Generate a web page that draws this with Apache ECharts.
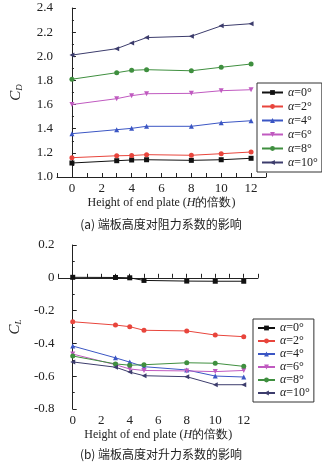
<!DOCTYPE html>
<html><head><meta charset="utf-8">
<script src="https://cdn.jsdelivr.net/npm/echarts@6/dist/echarts.min.js"></script>
<style>html,body{margin:0;padding:0;background:#fff}#c{width:322px;height:462px}</style>
</head><body><div id="c"></div>
<script>
const xs = [0, 3, 4, 5, 8, 10, 12];
const names = ['α=0°', 'α=2°', 'α=4°', 'α=6°', 'α=8°', 'α=10°'];
const xTickLabels = ['0', '2', '4', '6', '8', '10', '12'];
// drag coefficient C_D
const cd0 = [1.116, 1.135, 1.141, 1.143, 1.138, 1.143, 1.155];
const cd2 = [1.160, 1.176, 1.178, 1.185, 1.180, 1.193, 1.207];
const cd4 = [1.359, 1.392, 1.403, 1.420, 1.420, 1.450, 1.466];
const cd6 = [1.600, 1.649, 1.674, 1.690, 1.693, 1.715, 1.723];
const cd8 = [1.810, 1.864, 1.884, 1.889, 1.880, 1.909, 1.936];
const cd10 = [2.010, 2.063, 2.110, 2.155, 2.166, 2.252, 2.270];
// lift coefficient C_L
const cl0 = [0.003, 0.002, 0.000, -0.016, -0.020, -0.021, -0.021];
const cl2 = [-0.268, -0.288, -0.298, -0.320, -0.324, -0.349, -0.359];
const cl4 = [-0.416, -0.488, -0.514, -0.542, -0.562, -0.599, -0.605];
const cl6 = [-0.465, -0.530, -0.556, -0.565, -0.568, -0.572, -0.565];
const cl8 = [-0.477, -0.525, -0.533, -0.530, -0.518, -0.521, -0.540];
const cl10 = [-0.513, -0.545, -0.575, -0.597, -0.603, -0.652, -0.652];

const colors = ['#111111', '#e8453c', '#3b56c4', '#c05ac0', '#3f8f3f', '#3c3c6c'];
const symbols = ['rect', 'circle', 'triangle', 'triangle', 'circle', 'triangle'];
const rots = [0, 0, 0, 180, 0, 90];
const cdSets = [cd0, cd2, cd4, cd6, cd8, cd10];
const clSets = [cl0, cl2, cl4, cl6, cl8, cl10];

const serif = '"Liberation Serif","DejaVu Serif",serif';
const labelFmt = v => (Number.isInteger(v) && v >= 0 && v <= 12 && v % 2 === 0) ? xTickLabels[v / 2] : '';

function xAx(gi, gap) {
  return {
    type: 'value', gridIndex: gi, min: -1, max: 13, interval: 1,
    axisLine: {show: true, lineStyle: {color: '#222', width: 1}},
    axisTick: {show: true, inside: true, length: 4, lineStyle: {color: '#222'}},
    axisLabel: {formatter: labelFmt, color: '#222', fontFamily: serif, fontSize: 13, margin: 5},
    splitLine: {show: false},
    name: 'Height of end plate ({i|H}的倍数)', nameLocation: 'middle', nameGap: gap,
    nameTextStyle: {color: '#222', fontFamily: serif, fontSize: 12,
      rich: {i: {fontStyle: 'italic', fontFamily: serif, fontSize: 12, color: '#222'}}}
  };
}
function yAx(gi, min, max, fmt, sub) {
  return {
    type: 'value', gridIndex: gi, min: min, max: max, interval: 0.2,
    axisLine: {show: true, lineStyle: {color: '#222', width: 1}},
    axisTick: {show: true, inside: true, length: 4, lineStyle: {color: '#222'}},
    minorTick: {show: true, splitNumber: 2, length: 2, lineStyle: {color: '#222'}},
    axisLabel: {formatter: fmt, color: '#222', fontFamily: serif, fontSize: 13, margin: 4},
    splitLine: {show: false},
    name: '{c|C}{s|' + sub + '}', nameLocation: 'middle', nameGap: 33, nameRotate: 90,
    nameTextStyle: {rich: {
      c: {fontStyle: 'italic', fontFamily: serif, fontSize: 15, color: '#222'},
      s: {fontStyle: 'italic', fontFamily: serif, fontSize: 9, color: '#222', verticalAlign: 'bottom', padding: [6, 0, 0, 0]}
    }}
  };
}
const series = [];
for (let k = 0; k < 6; k++) {
  series.push({name: names[k], type: 'line', xAxisIndex: 0, yAxisIndex: 0,
    data: xs.map((x, i) => [x, cdSets[k][i]]), symbol: symbols[k], symbolRotate: rots[k],
    symbolSize: 5, color: colors[k], lineStyle: {width: 1}, animation: false});
}
for (let k = 0; k < 6; k++) {
  series.push({name: names[k] + ' ', type: 'line', xAxisIndex: 1, yAxisIndex: 1,
    data: xs.map((x, i) => [x, clSets[k][i]]), symbol: symbols[k], symbolRotate: rots[k],
    symbolSize: 5, color: colors[k], lineStyle: {width: 1}, animation: false});
}
function legendBase(lh, iw) {
  return {
    orient: 'vertical', borderColor: '#333', borderWidth: 1, borderRadius: 0,
    padding: [3, 4, 3, 4], itemGap: 1, itemWidth: iw, itemHeight: 6,
    backgroundColor: '#fff',
    formatter: n => '{i|α}' + n.trim().slice(1),
    textStyle: {fontFamily: serif, fontSize: 12, color: '#222', lineHeight: lh,
      rich: {i: {fontStyle: 'italic', fontFamily: serif, fontSize: 12, color: '#222', lineHeight: lh}}}
  };
}
const chart = echarts.init(document.getElementById('c'), null, {renderer: 'canvas'});
chart.setOption({
  animation: false,
  grid: [
    {left: 57, top: 8, width: 209, height: 169},
    {left: 54, top: 245, width: 204, height: 164}
  ],
  xAxis: [xAx(0, 20), xAx(1, 20)],
  yAxis: [
    yAx(0, 1.0, 2.4, v => v.toFixed(1), 'D'),
    yAx(1, -0.8, 0.2, v => (Math.abs(v) < 1e-9 ? '0' : String(Math.round(v * 10) / 10)), 'L')
  ],
  legend: [
    Object.assign(legendBase(13, 21), {left: 257, top: 83, data: names}),
    Object.assign(legendBase(12, 17), {left: 253, top: 319, data: names.map(n => n + ' ')})
  ],
  title: [
    {text: '(a) 端板高度对阻力系数的影响', left: 'center', top: 213,
      textStyle: {fontFamily: '"Noto Sans CJK SC",sans-serif', fontSize: 12, fontWeight: 'normal', color: '#222'}},
    {text: '(b) 端板高度对升力系数的影响', left: 'center', top: 443,
      textStyle: {fontFamily: '"Noto Sans CJK SC",sans-serif', fontSize: 12, fontWeight: 'normal', color: '#222'}}
  ],
  series: series
});
</script></body></html>
